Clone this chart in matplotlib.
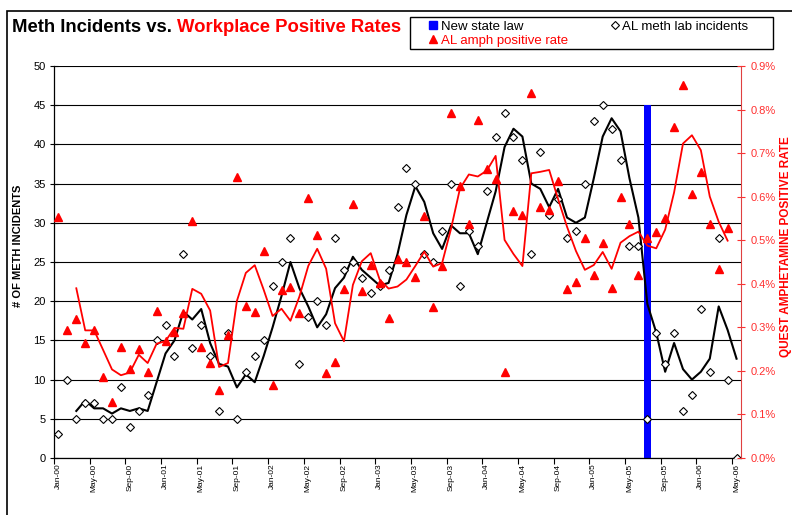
import numpy as np
import pandas as pd
import matplotlib
matplotlib.use('Agg')
import matplotlib.pyplot as plt
from matplotlib.lines import Line2D
from matplotlib.patches import Rectangle
from matplotlib import font_manager

# ------------------------------- data
months = list(pd.date_range('2000-01-01', periods=77, freq='MS').strftime('%b-%y'))

lab_incidents = [3, 10, 5, 7, 7, 5, 5, 9, 4, 6, 8, 15, 17, 13, 26, 14, 17, 13, 6, 16, 5,
                 11, 13, 15, 22, 25, 28, 12, 18, 20, 17, 28, 24, 25, 23, 21, 22, 24, 32, 37, 35,
                 26, 25, 29, 35, 22, 29, 27, 34, 41, 44, 41, 38, 26, 39, 31, 33, 28, 29, 35, 43,
                 45, 42, 38, 27, 27, 5, 16, 12, 16, 6, 8, 19, 11, 28, 10, 0]

# percent
amph_rate = [0.554, 0.295, 0.320, 0.264, 0.295, 0.186, 0.129, 0.255, 0.205, 0.251, 0.198,
             0.338, 0.269, 0.289, 0.332, 0.544, 0.255, 0.217, 0.155, 0.282, 0.645,
             0.348, 0.335, 0.476, 0.167, 0.385, 0.393, 0.333, 0.597, 0.511, 0.196,
             0.221, 0.387, 0.584, 0.384, 0.443, 0.402, 0.322, 0.457, 0.450, 0.416,
             0.555, 0.347, 0.441, 0.791, 0.624, 0.538, 0.777, 0.664, 0.640, 0.198,
             0.567, 0.557, 0.837, 0.577, 0.570, 0.636, 0.387, 0.403, 0.506, 0.420,
             0.493, 0.390, 0.600, 0.538, 0.421, 0.504, 0.519, 0.550, 0.760, 0.856,
             0.607, 0.657, 0.537, 0.433, 0.527, np.nan]

law_month = 'Jul-05'
law_height = 45

# 3 month moving average trendlines, like the excel chart
lab_ma = pd.Series(lab_incidents).rolling(3).mean()
amph_ma = pd.Series(amph_rate).rolling(3).mean()

# ------------------------------- fonts
names = {f.name for f in font_manager.fontManager.ttflist}
narrow = 'Liberation Sans Narrow' if 'Liberation Sans Narrow' in names else 'Liberation Sans'
plt.rcParams['font.family'] = ['Liberation Sans', 'DejaVu Sans']

W, H = 792, 515
fig = plt.figure(figsize=(W / 100, H / 100), dpi=100)
ax = fig.add_axes([54 / W, 1 - 458 / H, 687 / W, 392 / H])
ax2 = ax.twinx()

x = np.arange(len(months))
law_idx = months.index(law_month)

ax.bar(law_idx, law_height, width=0.8, color='#0000FF', zorder=1)
ax.plot(x, lab_ma, color='black', lw=1.5, zorder=3)
ax.plot(x, lab_incidents, ls='none', marker='D', ms=4.4, mfc='white', mec='black', mew=0.8, zorder=4)
ax2.plot(x, amph_rate, ls='none', marker='^', ms=6, color='#FF0000')
ax2.plot(x, amph_ma, color='#FF0000', lw=1.3)

ax.set_xlim(-0.5, len(months) - 0.5)
ax.set_ylim(0, 50)
ax2.set_ylim(0, 0.9)

ax.set_yticks(range(0, 51, 5))
ax.grid(axis='y', color='black', lw=0.8)
ax.set_axisbelow(True)
ax.tick_params(axis='y', direction='inout', length=6, width=0.8, labelsize=8, pad=3)

ax.set_xticks(x[::4])
ax.set_xticklabels(months[::4], rotation=90, fontsize=6)
ax.tick_params(axis='x', which='major', length=0, pad=4)
ax.set_xticks(x[::4] - 0.5, minor=True)
ax.tick_params(axis='x', which='minor', direction='out', length=4, width=0.8)

ax2.set_yticks(np.arange(0, 0.91, 0.1))
ax2.set_yticklabels([f'{v:.1f}%' for v in np.arange(0, 0.91, 0.1)])
ax2.tick_params(axis='y', direction='inout', length=6, width=0.8, labelsize=8,
                colors='#FF3030', pad=4)

for s in ['top', 'right']:
    ax.spines[s].set_visible(False)
for s in ['top', 'left', 'bottom']:
    ax2.spines[s].set_visible(False)
ax2.spines['right'].set_color('#E04040')
ax.spines['left'].set_linewidth(0.9)
ax.spines['bottom'].set_linewidth(0.9)

fig.text(18 / W, 1 - 246 / H, '# OF METH INCIDENTS', rotation=90, ha='center', va='center',
         fontsize=8, fontweight='bold')
fig.text(786 / W, 1 - 247 / H, 'QUEST AMPHETAMINE POSITIVE RATE', rotation=90, ha='center',
         va='center', fontsize=8.5, fontweight='bold', color='#FF0000')

# outer chart frame, cut off at the right and bottom
fig.add_artist(Rectangle((7 / W, -0.1), 1.2, 1.1 - 11 / H, transform=fig.transFigure,
                         fill=False, ec='black', lw=1.2))

# title in two colours
t1 = fig.text(12 / W, 1 - 32 / H, 'Meth Incidents vs. ', fontsize=13.3, fontweight='bold',
              family=narrow, va='baseline')
fig.canvas.draw()
bb = t1.get_window_extent()
fig.text(bb.x1 / W, 1 - 32 / H, 'Workplace Positive Rates', fontsize=13.3, fontweight='bold',
         family=narrow, va='baseline', color='#FF0000')

# legend: box drawn by hand, entries placed inside it
fig.add_artist(Rectangle((410 / W, 1 - 49 / H), 363 / W, 32 / H, transform=fig.transFigure,
                         fill=True, fc='white', ec='black', lw=1.0))
handles = [Line2D([], [], ls='none', marker='s', ms=6, color='#0000FF'),
           Line2D([], [], ls='none', marker='^', ms=6, color='#FF0000'),
           Line2D([], [], ls='none', marker='D', ms=4, mfc='white', mec='black', mew=0.8)]
labels = ['New state law', 'AL amph positive rate', 'AL meth lab incidents']
leg = fig.legend(handles, labels, ncol=2, loc='upper left',
                 bbox_to_anchor=(428 / W, 1 - 20.5 / H),
                 fontsize=9.5, frameon=False, handlelength=0.8, handletextpad=0.2,
                 borderpad=0, labelspacing=0.12, columnspacing=3.1, borderaxespad=0)
leg.get_texts()[1].set_color('#FF0000')

fig.savefig('out.png', dpi=100)
